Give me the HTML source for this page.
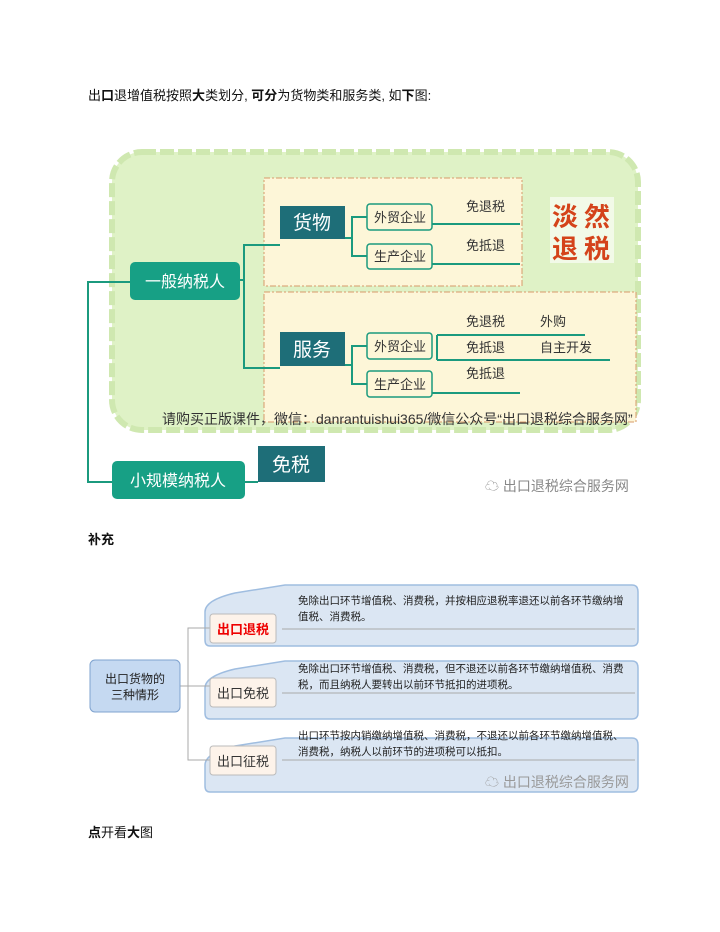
<!DOCTYPE html>
<html><head><meta charset="utf-8"><style>
body{margin:0;background:#fff;width:720px;height:932px;overflow:hidden;font-family:"Liberation Sans","Noto Sans CJK SC",sans-serif}
.t{position:absolute;font-size:13px;color:#111}
</style></head><body>
<div class="t" style="left:88px;top:85px">出<b>口</b>退增值税按照<b>大</b>类划分, <b>可分</b>为货物类和服务类, 如<b>下</b>图:</div>
<div class="t" style="left:88px;top:529px;font-weight:bold">补充</div>
<div class="t" style="left:88px;top:822px"><b>点</b>开看<b>大</b>图</div>
<svg width="720" height="932" style="position:absolute;left:0;top:0" font-family="Liberation Sans, Noto Sans CJK SC, sans-serif">
<rect x="112" y="152" width="526" height="278" rx="30" fill="#dff2c6" stroke="#cfe8b0" stroke-width="6" stroke-dasharray="14 4"/>
<rect x="264" y="178" width="258" height="108" fill="#fdf6d8" stroke="#d79b6a" stroke-dasharray="6 2 2 2"/>
<rect x="264" y="292" width="372" height="130" fill="#fdf6d8" stroke="#d79b6a" stroke-dasharray="6 2 2 2"/>
<g fill="none" stroke="#1b9a7e" stroke-width="2">
<path d="M130 282H88V482H112"/>
<path d="M240 280H244V245H280M244 280V368H280"/>
<path d="M345 238H352V217H367M352 238V256H367"/>
<path d="M345 365H352V346H367M352 365V384H367"/>
<path d="M432 224H520M432 264H520M432 393H520M437 335V360M437 335H585M437 360H610"/>
<path d="M245 482H258"/>
</g>
<rect x="130" y="262" width="110" height="38" rx="5" fill="#17a085"/>
<text x="185" y="287" fill="#fff" font-size="16" text-anchor="middle">一般纳税人</text>
<rect x="112" y="461" width="133" height="38" rx="5" fill="#17a085"/>
<text x="178" y="486" fill="#fff" font-size="16" text-anchor="middle">小规模纳税人</text>
<rect x="280" y="206" width="65" height="33" fill="#1e6e78"/>
<text x="312" y="229" fill="#fff" font-size="19" text-anchor="middle">货物</text>
<rect x="280" y="332" width="65" height="34" fill="#1e6e78"/>
<text x="312" y="356" fill="#fff" font-size="19" text-anchor="middle">服务</text>
<rect x="258" y="446" width="67" height="36" fill="#1e6e78"/>
<text x="291" y="471" fill="#fff" font-size="19" text-anchor="middle">免税</text>
<g fill="#fdf6d8" stroke="#1b9a7e" stroke-width="1.5">
<rect x="367" y="204" width="65" height="26" rx="3"/><rect x="367" y="244" width="65" height="25" rx="3"/>
<rect x="367" y="333" width="65" height="26" rx="3"/><rect x="367" y="371" width="65" height="26" rx="3"/>
</g>
<g font-size="13" fill="#333" text-anchor="middle">
<text x="400" y="222">外贸企业</text><text x="400" y="261">生产企业</text>
<text x="400" y="351">外贸企业</text><text x="400" y="389">生产企业</text>
</g>
<g font-size="13" fill="#333">
<text x="466" y="211">免退税</text><text x="466" y="250">免抵退</text>
<text x="466" y="326">免退税</text><text x="540" y="326">外购</text>
<text x="466" y="352">免抵退</text><text x="540" y="352">自主开发</text>
<text x="466" y="378">免抵退</text>
</g>
<rect x="550" y="197" width="64" height="66" fill="#fff" opacity="0.6"/>
<g font-size="26" fill="#d4431a" font-weight="bold"><text x="552" y="226">淡</text><text x="584" y="226">然</text><text x="552" y="258">退</text><text x="584" y="258">税</text></g>
<text x="162" y="424" font-size="14" fill="#333">请购买正版课件，微信：danrantuishui365/微信公众号“出口退税综合服务网”</text>
<text x="485" y="491" font-size="14" fill="#888">☁ 出口退税综合服务网</text>
<g fill="#dbe6f3" stroke="#9fbde0" stroke-width="1.5">
<path d="M205 612Q205 600 235 593L285 585H632Q638 585 638 592V640Q638 646 632 646H210Q205 646 205 640Z"/>
<path d="M205 688Q205 676 235 669L285 661H632Q638 661 638 668V713Q638 719 632 719H210Q205 719 205 713Z"/>
<path d="M205 765Q205 753 235 746L285 738H632Q638 738 638 745V786Q638 792 632 792H210Q205 792 205 786Z"/>
</g>
<g fill="none" stroke="#aaa" stroke-width="1"><path d="M180 686H188V628H210M188 686H210M188 686V760H210"/>
<path d="M282 629H635M282 693H635M282 760H635"/></g>
<rect x="90" y="660" width="90" height="52" rx="5" fill="#c5d9f1" stroke="#7fa3cf"/>
<text x="135" y="683" font-size="12" text-anchor="middle" fill="#222">出口货物的</text>
<text x="135" y="699" font-size="12" text-anchor="middle" fill="#222">三种情形</text>
<g fill="#fdf3ea" stroke="#bbb"><rect x="210" y="614" width="66" height="29" rx="3"/><rect x="210" y="678" width="66" height="29" rx="3"/><rect x="210" y="746" width="66" height="29" rx="3"/></g>
<text x="243" y="634" font-size="13" text-anchor="middle" fill="#e00" font-weight="bold">出口退税</text>
<text x="243" y="698" font-size="13" text-anchor="middle" fill="#333">出口免税</text>
<text x="243" y="766" font-size="13" text-anchor="middle" fill="#333">出口征税</text>
<g font-size="10.5" fill="#222">
<text x="298" y="604">免除出口环节增值税、消费税，并按相应退税率退还以前各环节缴纳增</text><text x="298" y="620">值税、消费税。</text>
<text x="298" y="672">免除出口环节增值税、消费税，但不退还以前各环节缴纳增值税、消费</text><text x="298" y="688">税，而且纳税人要转出以前环节抵扣的进项税。</text>
<text x="298" y="739">出口环节按内销缴纳增值税、消费税，不退还以前各环节缴纳增值税、</text><text x="298" y="755">消费税，纳税人以前环节的进项税可以抵扣。</text>
</g>
<text x="485" y="787" font-size="14" fill="#999">☁ 出口退税综合服务网</text>
</svg>
</body></html>
